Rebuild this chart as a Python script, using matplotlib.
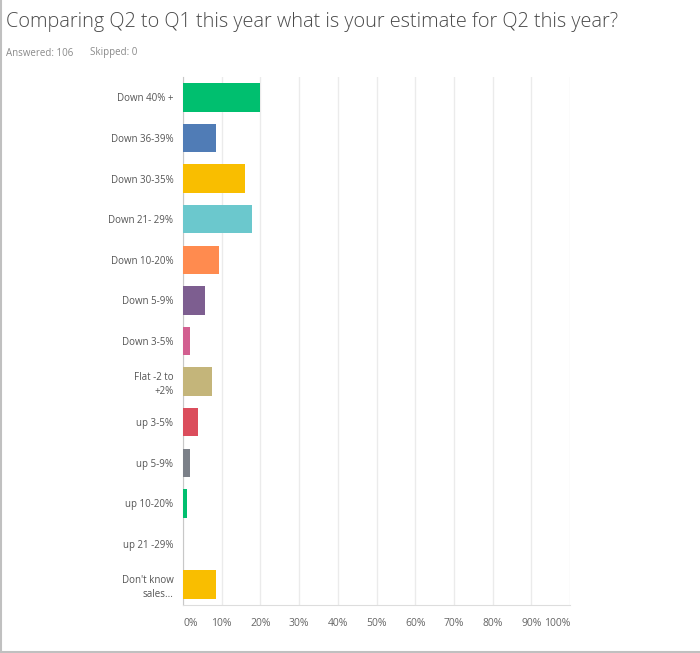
import numpy as np
import matplotlib
matplotlib.use('Agg')
import matplotlib.pyplot as plt
from matplotlib.lines import Line2D

# ---- Data (percent of respondents) ----
categories = [
    'Down 40% +', 'Down 36-39%', 'Down 30-35%', 'Down 21- 29%',
    'Down 10-20%', 'Down 5-9%', 'Down 3-5%', 'Flat -2 to\n+2%',
    'up 3-5%', 'up 5-9%', 'up 10-20%', 'up 21 -29%', "Don't know\nsales...",
]
values = [19.81, 8.49, 16.04, 17.92, 9.43, 5.66, 1.89, 7.55,
          3.77, 1.89, 0.94, 0.0, 8.49]
colors = ['#00BF6F', '#507CB6', '#F9BE00', '#6BC8CD', '#FF8B4F', '#7D5E90',
          '#D25F90', '#C4B57A', '#DB4D5C', '#7B8088', '#00BF6F', '#A1A1A1',
          '#F9BE00']
xticks = np.arange(0, 101, 10)
xticklabels = [f'{t}%' for t in xticks]

plt.rcParams['font.family'] = ['Open Sans', 'DejaVu Sans']

fig = plt.figure(figsize=(7.0, 6.53), dpi=100)
ax = fig.add_axes([183 / 700, 48 / 653, 387 / 700, 528 / 653])

y = np.arange(len(categories))
ax.barh(y, values, height=0.7, color=colors, zorder=3)
ax.set_ylim(len(categories) - 0.5, -0.5)
ax.set_xlim(0, 100)

ax.set_yticks(y)
ax.set_yticklabels(categories, fontsize=7, color='#555555', linespacing=1.3)
ax.set_xticks(xticks)
ax.set_xticklabels(xticklabels, fontsize=7.5, color='#666666')
xl = ax.get_xticklabels()
xl[0].set_ha('left')
xl[-1].set_ha('right')
ax.tick_params(axis='both', length=0)
ax.tick_params(axis='y', pad=7)
ax.tick_params(axis='x', pad=9)

ax.grid(True, axis='x', color='#EBEBEB', linewidth=1, zorder=0)
for s in ['top', 'right']:
    ax.spines[s].set_visible(False)
ax.spines['left'].set_color('#C8C8C8')
ax.spines['bottom'].set_color('#DDDDDD')

fig.text(6 / 700, 1 - 22 / 653, 'Comparing Q2 to Q1 this year what is your estimate for Q2 this year?',
         fontsize=14.3, color='#4A4A4A', fontweight='light', va='center', ha='left')
fig.text(6 / 700, 1 - 53 / 653, 'Answered: 106', fontsize=7, color='#8A8A8A',
         va='center', ha='left')
fig.text(90 / 700, 1 - 53 / 653, 'Skipped: 0', fontsize=7, color='#8A8A8A',
         va='center', ha='left')

# page border
fig.add_artist(Line2D([0.5 / 700, 0.5 / 700], [0, 1], color='#C0C0C0', linewidth=1.5))
fig.add_artist(Line2D([0, 1], [1 / 653, 1 / 653], color='#C0C0C0', linewidth=1.5))

plt.savefig('out.png', dpi=100)
